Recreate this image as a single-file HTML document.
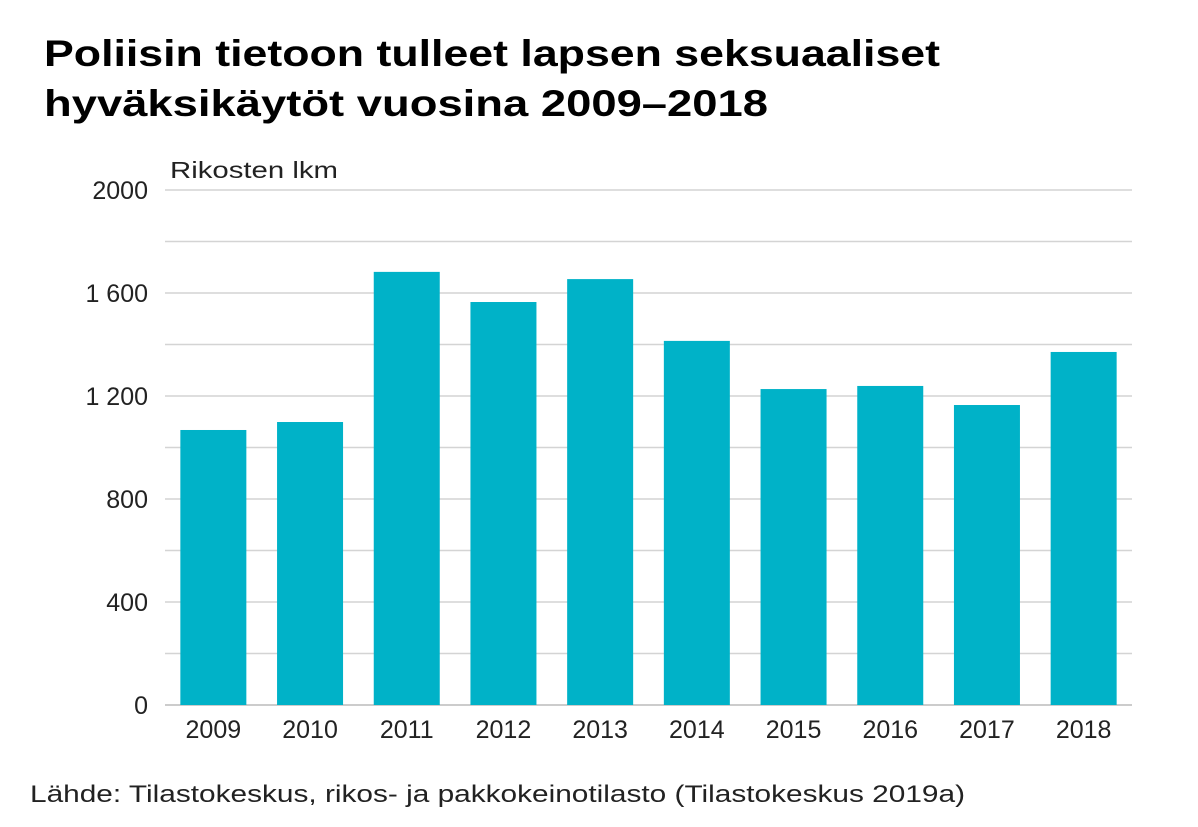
<!DOCTYPE html>
<html><head><meta charset="utf-8"><style>
body{margin:0;background:#fff;width:1198px;height:822px;overflow:hidden;font-family:"Liberation Sans",sans-serif;}
</style></head><body>
<svg width="1198" height="822">
<text x="44" y="66" font-size="37" font-weight="bold" fill="#000" textLength="896" lengthAdjust="spacingAndGlyphs">Poliisin tietoon tulleet lapsen seksuaaliset</text>
<text x="44" y="116" font-size="37" font-weight="bold" fill="#000" textLength="724" lengthAdjust="spacingAndGlyphs">hyväksikäytöt vuosina 2009–2018</text>
<text x="170" y="178" font-size="23" fill="#222" textLength="168" lengthAdjust="spacingAndGlyphs">Rikosten lkm</text>
<g id="grid"></g><g id="bars"></g><g id="labels"></g>
<text x="30" y="802" font-size="24" fill="#222" textLength="935" lengthAdjust="spacingAndGlyphs">Lähde: Tilastokeskus, rikos- ja pakkokeinotilasto (Tilastokeskus 2019a)</text>
</svg>
<script>
const categories=["2009","2010","2011","2012","2013","2014","2015","2016","2017","2018"];
const values=[1068,1099,1682,1565,1654,1414,1227,1239,1165,1371];
const yTicks=[0,200,400,600,800,1000,1200,1400,1600,1800,2000];
const yTickLabels=["0","","400","","800","","1 200","","1 600","","2000"];
const NS="http://www.w3.org/2000/svg";
const x0=165,x1=1132,yBase=705,yTop=190,yMax=2000;
const y=v=>yBase-(v/yMax)*(yBase-yTop);
const band=(x1-x0)/categories.length;
const g=document.getElementById("grid"),b=document.getElementById("bars"),l=document.getElementById("labels");
yTicks.forEach((t,i)=>{
 const ln=document.createElementNS(NS,"line");
 
 
 ln.setAttribute("x1",x0);ln.setAttribute("x2",x1);ln.setAttribute("y1",y(t));ln.setAttribute("y2",y(t));
 ln.setAttribute("stroke",t===0?"#bbb":"#d4d4d4");ln.setAttribute("stroke-width","1.5");g.appendChild(ln);
 if(yTickLabels[i]){const tx=document.createElementNS(NS,"text");
 
 
 tx.setAttribute("x",148);tx.setAttribute("y",y(t)+9);tx.setAttribute("text-anchor","end");tx.setAttribute("font-size","25");tx.setAttribute("fill","#222");tx.textContent=yTickLabels[i];l.appendChild(tx);}
});
categories.forEach((c,i)=>{
 const cx=x0+band*(i+0.5),w=66;
 const r=document.createElementNS(NS,"rect");
 
 
 r.setAttribute("x",cx-w/2);r.setAttribute("width",w);r.setAttribute("y",y(values[i]));r.setAttribute("height",yBase-y(values[i]));r.setAttribute("fill","#00b2c8");b.appendChild(r);
 const tx=document.createElementNS(NS,"text");
 
 
 tx.setAttribute("x",cx);tx.setAttribute("y",738);tx.setAttribute("text-anchor","middle");tx.setAttribute("font-size","25");tx.setAttribute("fill","#222");tx.textContent=c;l.appendChild(tx);
});
</script>
</body></html>
